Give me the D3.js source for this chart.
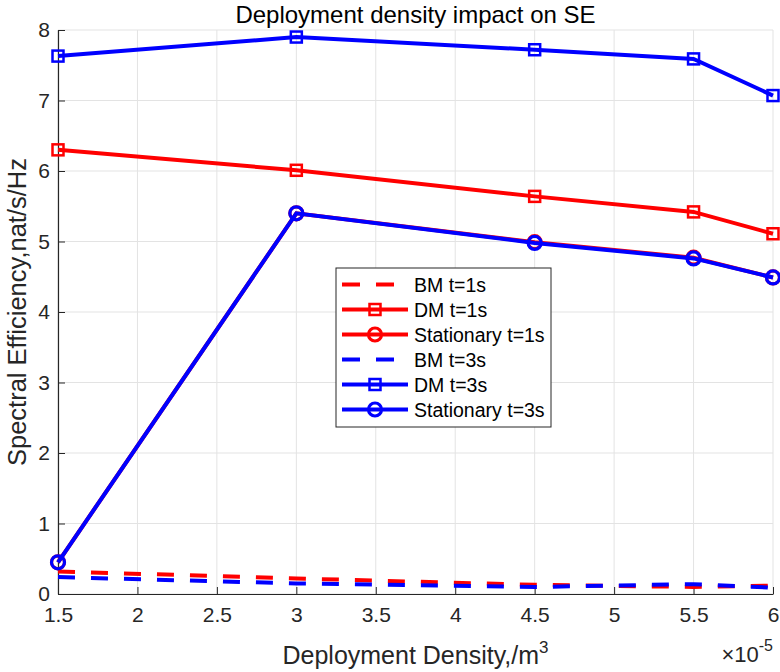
<!DOCTYPE html>
<html>
<head>
<meta charset="utf-8">
<script src="https://cdn.jsdelivr.net/npm/d3@7"></script>
<style>
  body { margin: 0; background: #fff; }
  svg { font-family: "Liberation Sans", Arial, sans-serif; }
</style>
</head>
<body>
<svg id="chart" width="780" height="672"></svg>
<script>
// x values (x 1e-5)
var xs = [1.5, 3, 4.5, 5.5, 6]
var bm1 = [0.32, 0.22, 0.13, 0.10, 0.12]
var dm1 = [6.30, 6.01, 5.64, 5.42, 5.11]
var st1 = [0.45, 5.40, 4.99, 4.77, 4.49]
var bm3 = [0.24, 0.15, 0.10, 0.14, 0.09]
var dm3 = [7.63, 7.90, 7.72, 7.59, 7.07]
var st3 = [0.45, 5.40, 4.98, 4.76, 4.49]
var xticks = [1.5, 2, 2.5, 3, 3.5, 4, 4.5, 5, 5.5, 6]
var yticks = [0, 1, 2, 3, 4, 5, 6, 7, 8]

var series = [
    {name: 'BM t=1s', vals: bm1, color: '#ff0000', dash: true, marker: null},
    {name: 'DM t=1s', vals: dm1, color: '#ff0000', dash: false, marker: 'square'},
    {name: 'Stationary t=1s', vals: st1, color: '#ff0000', dash: false, marker: 'circle'},
    {name: 'BM t=3s', vals: bm3, color: '#0000ff', dash: true, marker: null},
    {name: 'DM t=3s', vals: dm3, color: '#0000ff', dash: false, marker: 'square'},
    {name: 'Stationary t=3s', vals: st3, color: '#0000ff', dash: false, marker: 'circle'}
]

var svg = d3.select('#chart')
var margin = {left: 58, right: 7, top: 30, bottom: 78}
var width = +svg.attr('width')
var height = +svg.attr('height')

var xscale = d3.scaleLinear().domain([1.5, 6]).range([margin.left, width - margin.right])
var yscale = d3.scaleLinear().domain([0, 8]).range([height - margin.bottom, margin.top])

// grid
svg.append('g').selectAll('line').data(xticks).enter().append('line')
    .attr('x1', d => xscale(d)).attr('x2', d => xscale(d))
    .attr('y1', yscale(0)).attr('y2', yscale(8))
    .attr('stroke', '#e3e3e3').attr('stroke-width', 1)
svg.append('g').selectAll('line').data(yticks).enter().append('line')
    .attr('y1', d => yscale(d)).attr('y2', d => yscale(d))
    .attr('x1', xscale(1.5)).attr('x2', xscale(6))
    .attr('stroke', '#e3e3e3').attr('stroke-width', 1)

// axes
svg.append('g')
    .attr('transform', 'translate(0,' + yscale(0) + ')')
    .call(d3.axisBottom(xscale).tickValues(xticks).tickSizeInner(-7).tickSizeOuter(0).tickPadding(13).tickFormat(d3.format('')))
svg.append('g')
    .attr('transform', 'translate(' + xscale(1.5) + ',0)')
    .call(d3.axisLeft(yscale).tickValues(yticks).tickSizeInner(-7).tickSizeOuter(0).tickPadding(8))
svg.selectAll('.domain').attr('stroke', '#262626').attr('stroke-width', 1.2)
svg.selectAll('.tick line').attr('stroke', '#262626')
svg.selectAll('.tick text').attr('font-size', 21).attr('fill', '#262626')
    .style('font-family', '"Liberation Sans", Arial, sans-serif')

var line = d3.line()
    .x((d, i) => xscale(xs[i]))
    .y(d => yscale(d))

var lines_g = svg.append('g')
function drawMarker(g, type, cx, cy, color) {
    if (type === 'square') {
        g.append('rect').attr('x', cx - 5.5).attr('y', cy - 5.5).attr('width', 11).attr('height', 11)
            .attr('fill', 'none').attr('stroke', color).attr('stroke-width', 2.5)
    } else if (type === 'circle') {
        g.append('circle').attr('cx', cx).attr('cy', cy).attr('r', 6.5)
            .attr('fill', 'none').attr('stroke', color).attr('stroke-width', 3.2)
    }
}
series.forEach(function (s) {
    var g = lines_g.append('g')
    g.append('path')
        .attr('d', line(s.vals))
        .attr('fill', 'none')
        .attr('stroke', s.color)
        .attr('stroke-width', 4)
        .attr('stroke-dasharray', s.dash ? '17,16' : null)
    if (s.marker) {
        s.vals.forEach(function (v, i) {
            drawMarker(g, s.marker, xscale(xs[i]), yscale(v), s.color)
        })
    }
})

// title and labels
svg.append('text').text('Deployment density impact on SE')
    .attr('x', (xscale(1.5) + xscale(6)) / 2).attr('y', 23)
    .attr('text-anchor', 'middle').attr('font-size', 24).attr('fill', '#000')
var xl = svg.append('text').attr('x', (xscale(1.5) + xscale(6)) / 2).attr('y', 664)
    .attr('text-anchor', 'middle').attr('font-size', 25).attr('fill', '#262626')
xl.append('tspan').text('Deployment Density,/m')
xl.append('tspan').text('3').attr('font-size', 17).attr('dy', -11)
svg.append('text').text('Spectral Efficiency,nat/s/Hz')
    .attr('transform', 'translate(26,' + ((yscale(0) + yscale(8)) / 2) + ') rotate(-90)')
    .attr('text-anchor', 'middle').attr('font-size', 25.5).attr('fill', '#262626')
var ex = svg.append('text').attr('x', 773).attr('y', 662)
    .attr('text-anchor', 'end').attr('font-size', 22).attr('fill', '#262626')
ex.append('tspan').text('\u00d710')
ex.append('tspan').text('-5').attr('font-size', 16).attr('dy', -11)

// legend
var lg = svg.append('g').attr('transform', 'translate(336,268)')
lg.append('rect').attr('width', 215).attr('height', 159)
    .attr('fill', '#fff').attr('stroke', '#262626').attr('stroke-width', 1)
series.forEach(function (s, i) {
    var y = 16.5 + i * 25
    var g = lg.append('g')
    g.append('line').attr('x1', 6).attr('x2', 72).attr('y1', y).attr('y2', y)
        .attr('stroke', s.color).attr('stroke-width', 4)
        .attr('stroke-dasharray', s.dash ? '18,16' : null)
    if (s.marker) drawMarker(g, s.marker, 39, y, s.color)
    g.append('text').text(s.name).attr('x', 78).attr('y', y + 7)
        .attr('font-size', 19.5).attr('fill', '#000')
})
</script>
</body>
</html>
